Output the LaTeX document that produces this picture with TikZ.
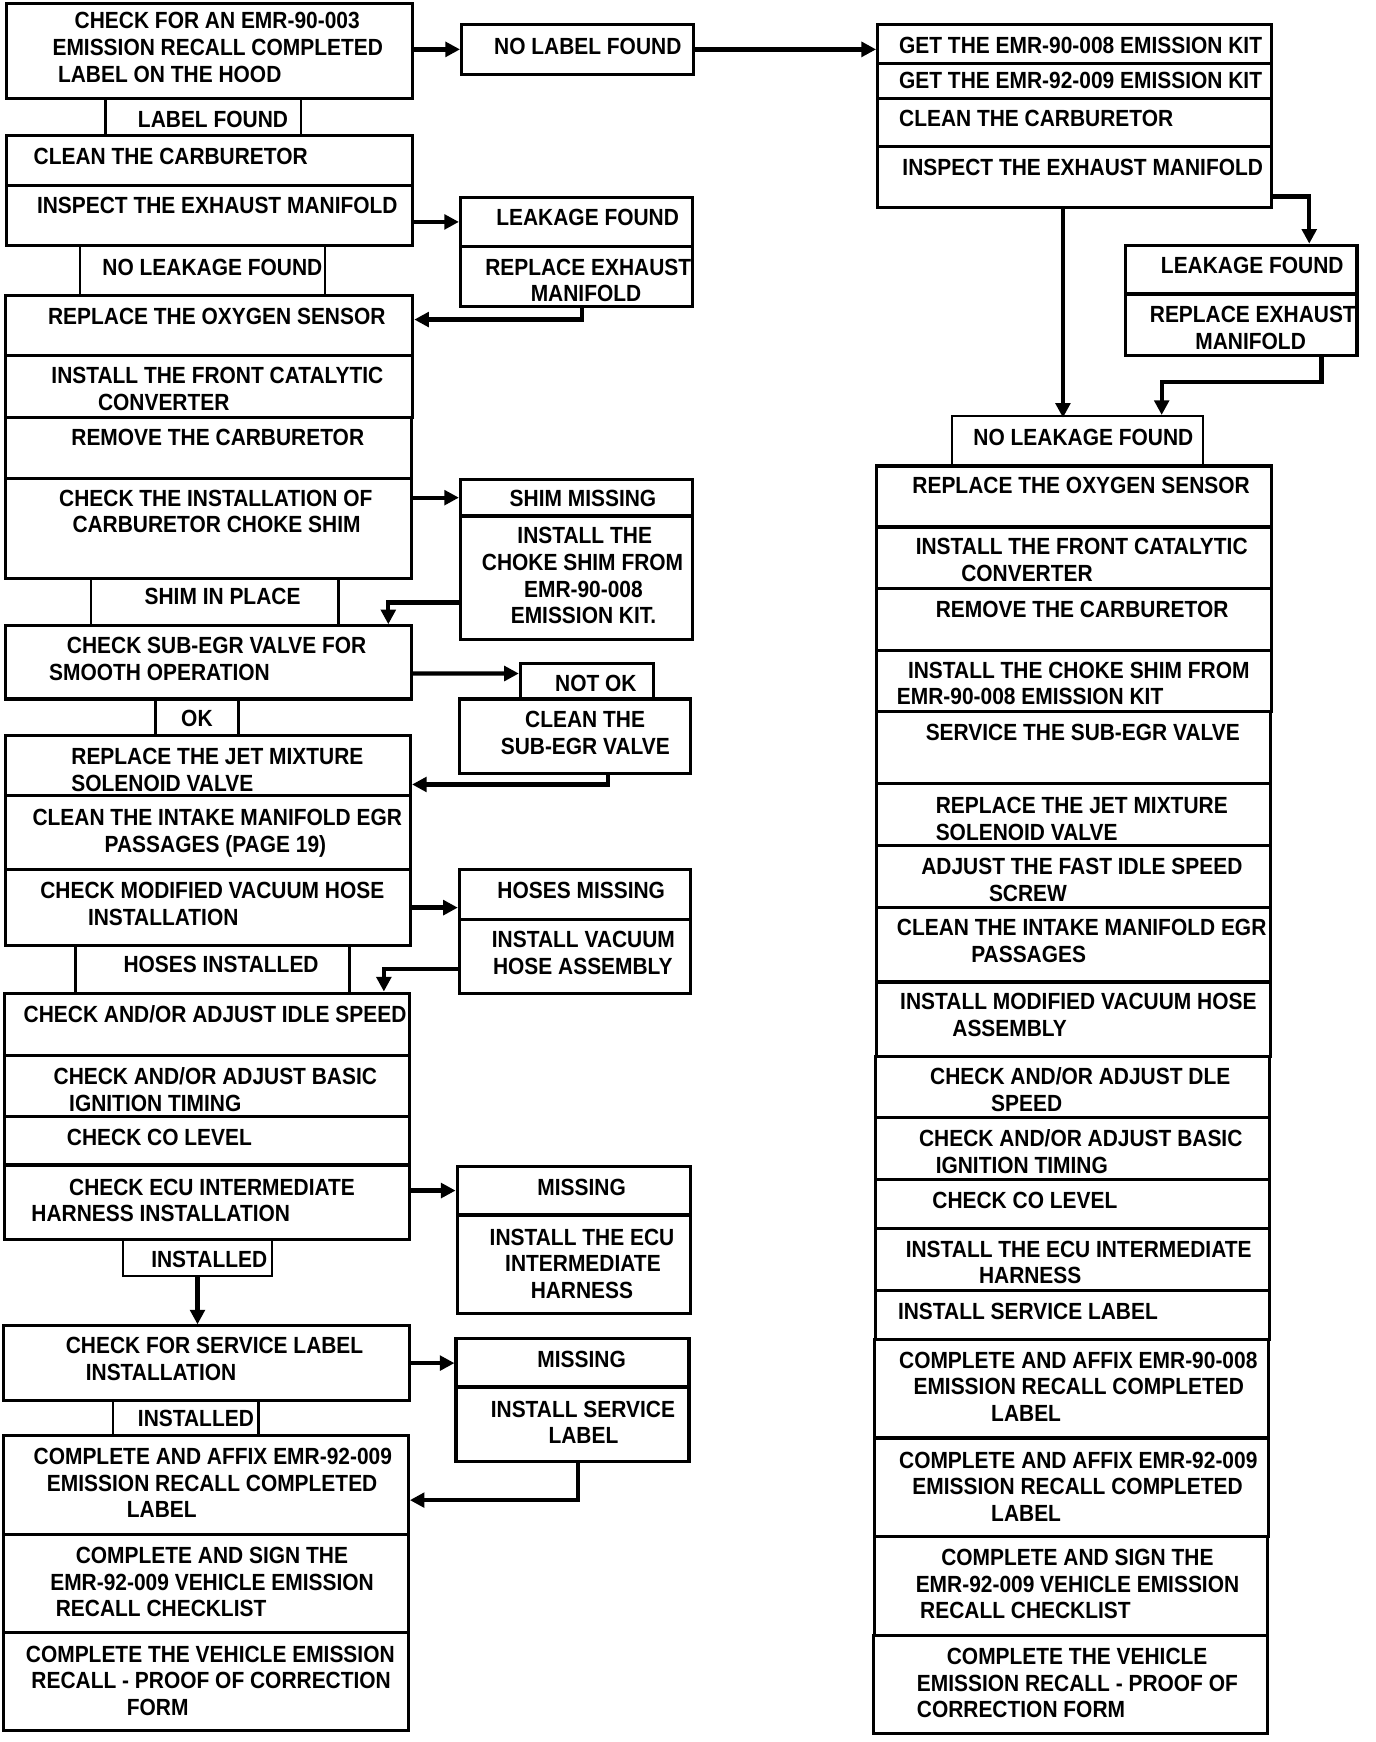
\documentclass[tikz,border=0pt]{standalone}
\usepackage{fontspec}
\newfontfamily\flowfont{Liberation Sans}[FakeStretch=0.895]
\usepackage{tikz}
\usetikzlibrary{arrows.meta,calc,fit,positioning}

\newlength{\pxu}
\setlength{\pxu}{0.02cm}
\newcommand{\ind}[1]{\hspace*{#1\pxu}}

\tikzset{
  frame/.style={draw, line width=1.6pt, inner sep=0pt},
  tab/.style={draw, line width=1.2pt, inner sep=0pt},
  txt/.style={anchor=north west, inner sep=0pt, align=left,
              font=\flowfont\bfseries\fontsize{12}{13.66}\selectfont},
  flow/.style={line width=2.2pt, -{Triangle[length=7.5pt,width=7.5pt]}},
}

\begin{document}
\begin{tikzpicture}[x=0.02cm, y=-0.02cm]

  \useasboundingbox (0,0) rectangle (1240,1570);

  % left column
  \node[frame, fit={(6,3) (372,89)}]       (hood)    {};
  \node[tab,   fit={(95,89) (271,122)}]    (lblfound) {};
  \node[frame, fit={(6,122) (372,167)}]    (carb)    {};
  \node[frame, fit={(6,167) (372,221)}]    (inspect) {};
  \node[tab,   fit={(72,221) (293,266)}]   (noleak)  {};
  \node[frame, fit={(5,266) (372,320)}]    (oxy)     {};
  \node[frame, fit={(5,320) (372,376)}]    (cat)     {};
  \node[frame, fit={(5,376) (371,431)}]    (remcarb) {};
  \node[frame, fit={(5,431) (371,521)}]    (chkshim) {};
  \node[tab,   fit={(82,521) (305,564)}]   (shimin)  {};
  \node[frame, fit={(5,564) (371,630)}]    (subegr)  {};
  \node[tab,   fit={(140,630) (215,663)}]  (ok)      {};
  \node[frame, fit={(5,663) (370,717)}]    (jet)     {};
  \node[frame, fit={(5,717) (370,784)}]    (intake)  {};
  \node[frame, fit={(5,784) (370,852)}]    (vacchk)  {};
  \node[tab,   fit={(68,852) (315,895)}]   (hosesin) {};
  \node[frame, fit={(4,895) (369,951)}]    (idle)    {};
  \node[frame, fit={(4,951) (369,1006)}]   (ign)     {};
  \node[frame, fit={(4,1006) (369,1050)}]  (co)      {};
  \node[frame, fit={(4,1050) (369,1117)}]  (ecuchk)  {};
  \node[tab,   fit={(111,1117) (245,1150)}] (inst1)  {};
  \node[frame, fit={(3,1195) (369,1262)}]  (svcchk)  {};
  \node[tab,   fit={(102,1262) (233,1294)}] (inst2)  {};
  \node[frame, fit={(3,1294) (368,1383)}]  (affix)   {};
  \node[frame, fit={(3,1383) (368,1471)}]  (sign)    {};
  \node[frame, fit={(3,1471) (368,1560)}]  (proof)   {};

  \node[txt] (hood-t)     at (47,11)   {\ind{20}CHECK FOR AN EMR-90-003\\EMISSION RECALL COMPLETED\\\ind{5}LABEL ON THE HOOD};
  \node[txt] (lblfound-t) at (124,100) {LABEL FOUND};
  \node[txt] (carb-t)     at (30,133)  {CLEAN THE CARBURETOR};
  \node[txt] (inspect-t)  at (33,177)  {INSPECT THE EXHAUST MANIFOLD};
  \node[txt] (noleak-t)   at (92,233)  {NO LEAKAGE FOUND};
  \node[txt] (oxy-t)      at (43,277)  {REPLACE THE OXYGEN SENSOR};
  \node[txt] (cat-t)      at (46,331)  {INSTALL THE FRONT CATALYTIC\\\ind{42}CONVERTER};
  \node[txt] (remcarb-t)  at (64,386)  {REMOVE THE CARBURETOR};
  \node[txt] (chkshim-t)  at (53,441)  {CHECK THE INSTALLATION OF\\\ind{12}CARBURETOR CHOKE SHIM};
  \node[txt] (shimin-t)   at (130,530) {SHIM IN PLACE};
  \node[txt] (subegr-t)   at (44,574)  {\ind{16}CHECK SUB-EGR VALVE FOR\\SMOOTH OPERATION};
  \node[txt] (ok-t)       at (163,640) {OK};
  \node[txt] (jet-t)      at (64,674)  {REPLACE THE JET MIXTURE\\SOLENOID VALVE};
  \node[txt] (intake-t)   at (29,729)  {CLEAN THE INTAKE MANIFOLD EGR\\\ind{65}PASSAGES (PAGE 19)};
  \node[txt] (vacchk-t)   at (36,795)  {CHECK MODIFIED VACUUM HOSE\\\ind{43}INSTALLATION};
  \node[txt] (hosesin-t)  at (111,861) {HOSES INSTALLED};
  \node[txt] (idle-t)     at (21,906)  {CHECK AND/OR ADJUST IDLE SPEED};
  \node[txt] (ign-t)      at (48,962)  {CHECK AND/OR ADJUST BASIC\\\ind{14}IGNITION TIMING};
  \node[txt] (co-t)       at (60,1017) {CHECK CO LEVEL};
  \node[txt] (ecuchk-t)   at (28,1062) {\ind{34}CHECK ECU INTERMEDIATE\\HARNESS INSTALLATION};
  \node[txt] (inst1-t)    at (136,1127) {INSTALLED};
  \node[txt] (svcchk-t)   at (59,1205) {CHECK FOR SERVICE LABEL\\\ind{18}INSTALLATION};
  \node[txt] (inst2-t)    at (124,1271) {INSTALLED};
  \node[txt] (affix-t)    at (30,1305) {COMPLETE AND AFFIX EMR-92-009\\\ind{12}EMISSION RECALL COMPLETED\\\ind{84}LABEL};
  \node[txt] (sign-t)     at (45,1394) {\ind{23}COMPLETE AND SIGN THE\\EMR-92-009 VEHICLE EMISSION\\\ind{5}RECALL CHECKLIST};
  \node[txt] (proof-t)    at (23,1483) {COMPLETE THE VEHICLE EMISSION\\\ind{5}RECALL - PROOF OF CORRECTION\\\ind{91}FORM};

  % middle column
  \node[frame, fit={(416,22) (625,67)}]    (nolabel)   {};
  \node[frame, fit={(415,178) (624,222)}]  (leak)      {};
  \node[frame, fit={(415,222) (624,276)}]  (repexh)    {};
  \node[frame, fit={(415,432) (624,465)}]  (shimmiss)  {};
  \node[frame, fit={(415,465) (624,576)}]  (shimkit)   {};
  \node[frame, fit={(469,598) (589,630)}]  (notok)     {};
  \node[frame, fit={(414,630) (622,697)}]  (cleanegr)  {};
  \node[frame, fit={(414,784) (622,829)}]  (hosesmiss) {};
  \node[frame, fit={(414,829) (622,895)}]  (instvac)   {};
  \node[frame, fit={(412,1051) (622,1095)}] (ecumiss)  {};
  \node[frame, fit={(412,1095) (622,1184)}] (instecu)  {};
  \node[frame, fit={(411,1206) (621,1250)}] (svcmiss)  {};
  \node[frame, fit={(411,1250) (621,1317)}] (instsvc)  {};

  \node[txt] (nolabel-t)   at (445,34)   {NO LABEL FOUND};
  \node[txt] (leak-t)      at (447,188)  {LEAKAGE FOUND};
  \node[txt] (repexh-t)    at (437,233)  {REPLACE EXHAUST\\\ind{41}MANIFOLD};
  \node[txt] (shimmiss-t)  at (459,441)  {SHIM MISSING};
  \node[txt] (shimkit-t)   at (434,475)  {\ind{32}INSTALL THE\\CHOKE SHIM FROM\\\ind{38}EMR-90-008\\\ind{26}EMISSION KIT.};
  \node[txt] (notok-t)     at (500,608)  {NOT OK};
  \node[txt] (cleanegr-t)  at (451,641)  {\ind{22}CLEAN THE\\SUB-EGR VALVE};
  \node[txt] (hosesmiss-t) at (448,795)  {HOSES MISSING};
  \node[txt] (instvac-t)   at (443,839)  {INSTALL VACUUM\\\ind{1}HOSE ASSEMBLY};
  \node[txt] (ecumiss-t)   at (484,1062) {MISSING};
  \node[txt] (instecu-t)   at (441,1107) {INSTALL THE ECU\\\ind{14}INTERMEDIATE\\\ind{37}HARNESS};
  \node[txt] (svcmiss-t)   at (484,1217) {MISSING};
  \node[txt] (instsvc-t)   at (442,1262) {INSTALL SERVICE\\\ind{52}LABEL};

  % right column
  \node[frame, fit={(791,22) (1146,57)}]    (kit90)    {};
  \node[frame, fit={(791,57) (1146,89)}]    (kit92)    {};
  \node[frame, fit={(791,89) (1146,132)}]   (rcarb)    {};
  \node[frame, fit={(791,132) (1146,187)}]  (rinspect) {};
  \node[frame, fit={(1014,221) (1223,265)}] (rleak)    {};
  \node[frame, fit={(1014,265) (1223,320)}] (rrepexh)  {};
  \node[tab,   fit={(858,375) (1084,420)}]  (rnoleak)  {};
  \node[frame, fit={(790,420) (1146,475)}]  (roxy)     {};
  \node[frame, fit={(790,475) (1146,530)}]  (rcat)     {};
  \node[frame, fit={(790,530) (1146,586)}]  (rremcarb) {};
  \node[frame, fit={(790,586) (1146,641)}]  (rshim)    {};
  \node[frame, fit={(790,641) (1145,706)}]  (regr)     {};
  \node[frame, fit={(790,706) (1145,762)}]  (rjet)     {};
  \node[frame, fit={(790,762) (1145,818)}]  (rfast)    {};
  \node[frame, fit={(790,818) (1145,885)}]  (rintake)  {};
  \node[frame, fit={(790,885) (1145,952)}]  (rvac)     {};
  \node[frame, fit={(789,952) (1144,1007)}] (ridle)    {};
  \node[frame, fit={(789,1007) (1144,1063)}] (rign)    {};
  \node[frame, fit={(789,1063) (1144,1107)}] (rco)     {};
  \node[frame, fit={(789,1107) (1144,1163)}] (recu)    {};
  \node[frame, fit={(789,1163) (1144,1207)}] (rsvc)    {};
  \node[frame, fit={(788,1207) (1143,1296)}] (raffix90) {};
  \node[frame, fit={(788,1296) (1143,1385)}] (raffix92) {};
  \node[frame, fit={(788,1385) (1142,1474)}] (rsign)   {};
  \node[frame, fit={(787,1474) (1142,1562)}] (rproof)  {};

  \node[txt] (kit90-t)    at (810,33)   {GET THE EMR-90-008 EMISSION KIT};
  \node[txt] (kit92-t)    at (810,65)   {GET THE EMR-92-009 EMISSION KIT};
  \node[txt] (rcarb-t)    at (810,99)   {CLEAN THE CARBURETOR};
  \node[txt] (rinspect-t) at (813,143)  {INSPECT THE EXHAUST MANIFOLD};
  \node[txt] (rleak-t)    at (1046,231) {LEAKAGE FOUND};
  \node[txt] (rrepexh-t)  at (1036,276) {REPLACE EXHAUST\\\ind{41}MANIFOLD};
  \node[txt] (rnoleak-t)  at (877,386)  {NO LEAKAGE FOUND};
  \node[txt] (roxy-t)     at (822,430)  {REPLACE THE OXYGEN SENSOR};
  \node[txt] (rcat-t)     at (825,485)  {INSTALL THE FRONT CATALYTIC\\\ind{41}CONVERTER};
  \node[txt] (rremcarb-t) at (843,541)  {REMOVE THE CARBURETOR};
  \node[txt] (rshim-t)    at (808,596)  {\ind{10}INSTALL THE CHOKE SHIM FROM\\EMR-90-008 EMISSION KIT};
  \node[txt] (regr-t)     at (834,652)  {SERVICE THE SUB-EGR VALVE};
  \node[txt] (rjet-t)     at (843,718)  {REPLACE THE JET MIXTURE\\SOLENOID VALVE};
  \node[txt] (rfast-t)    at (830,773)  {ADJUST THE FAST IDLE SPEED\\\ind{61}SCREW};
  \node[txt] (rintake-t)  at (808,828)  {CLEAN THE INTAKE MANIFOLD EGR\\\ind{67}PASSAGES};
  \node[txt] (rvac-t)     at (811,895)  {INSTALL MODIFIED VACUUM HOSE\\\ind{47}ASSEMBLY};
  \node[txt] (ridle-t)    at (838,962)  {CHECK AND/OR ADJUST DLE\\\ind{55}SPEED};
  \node[txt] (rign-t)     at (828,1018) {CHECK AND/OR ADJUST BASIC\\\ind{15}IGNITION TIMING};
  \node[txt] (rco-t)      at (840,1074) {CHECK CO LEVEL};
  \node[txt] (recu-t)     at (816,1118) {INSTALL THE ECU INTERMEDIATE\\\ind{66}HARNESS};
  \node[txt] (rsvc-t)     at (809,1174) {INSTALL SERVICE LABEL};
  \node[txt] (raffix90-t) at (810,1218) {COMPLETE AND AFFIX EMR-90-008\\\ind{13}EMISSION RECALL COMPLETED\\\ind{83}LABEL};
  \node[txt] (raffix92-t) at (810,1308) {COMPLETE AND AFFIX EMR-92-009\\\ind{12}EMISSION RECALL COMPLETED\\\ind{83}LABEL};
  \node[txt] (rsign-t)    at (825,1396) {\ind{23}COMPLETE AND SIGN THE\\EMR-92-009 VEHICLE EMISSION\\\ind{4}RECALL CHECKLIST};
  \node[txt] (rproof-t)   at (826,1485) {\ind{27}COMPLETE THE VEHICLE\\EMISSION RECALL - PROOF OF\\CORRECTION FORM};

  % connectors
  \draw[flow] (hood.east |- nolabel.west) -- (nolabel.west);
  \draw[flow] (nolabel.east) -- (nolabel.east -| kit90.west);
  \draw[flow] (inspect.east |- leak.west) -- (leak.west);
  \draw[flow] ([xshift=0.1cm]repexh.south) |- ([yshift=0.1cm]oxy.east);
  \draw[flow] (chkshim.east |- shimmiss.west) -- (shimmiss.west);
  \draw[flow] ([yshift=-0.45cm]shimkit.west) -| ([xshift=3.24cm]subegr.north);
  \draw[flow] ([yshift=-0.2cm]subegr.east) -- ([yshift=0.14cm]notok.west);
  \draw[flow] ([xshift=0.6cm]cleanegr.south) |- ([yshift=-0.34cm]jet.east);
  \draw[flow] (vacchk.east) -- (vacchk.east -| hosesmiss.west);
  \draw[flow] ([yshift=-0.22cm]instvac.west) -| ([xshift=3.19cm]idle.north);
  \draw[flow] (ecuchk.east |- ecumiss.west) -- (ecumiss.west);
  \draw[flow] (inst1.south) -- (inst1.south |- svcchk.north);
  \draw[flow] (svcchk.east) -- (svcchk.east -| svcmiss.west);
  \draw[flow] ([xshift=0.1cm]instsvc.south) |- ([yshift=-0.27cm]affix.east);
%
  \draw[flow] ([yshift=-0.35cm]rinspect.east) -| ([xshift=1.23cm]rleak.north);
  \draw[flow] ([xshift=1.45cm]rrepexh.south) -- ++(0,23) -| ([xshift=1.52cm]rnoleak.north);
  \draw[flow] ([xshift=-0.21cm]rinspect.south) -- ++(0,188);

\end{tikzpicture}
\end{document}
